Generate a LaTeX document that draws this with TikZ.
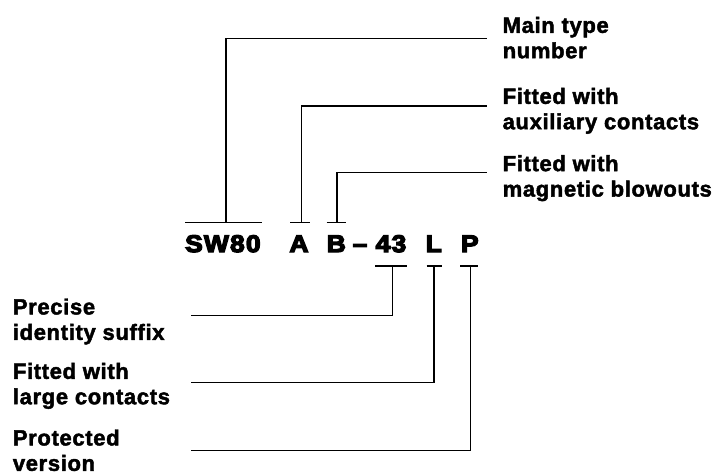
\documentclass[tikz,border=0pt]{standalone}
\usepackage{fontspec}
\setmainfont{Liberation Sans}
\newfontfamily\lblfont[LetterSpace=3,FakeBold=2]{Liberation Sans}
\newfontfamily\codefont[FakeStretch=1.1,LetterSpace=5,FakeBold=5.5]{Liberation Sans}
\begin{document}
\begin{tikzpicture}[x=1pt,y=-1pt,
  lbl/.style={anchor=north west,inner sep=0pt,align=left,
    font=\lblfont\bfseries\fontsize{22}{25.4}\selectfont},
  code/.style={anchor=base,inner sep=0pt,font=\codefont\bfseries\fontsize{24}{24}\selectfont},
  conn/.style={line width=1.4pt,line cap=rect},
  bar/.style={line width=1.6pt}]
\useasboundingbox (0,0) rectangle (716,474);
% code pieces
\node[code] (sw) at (222.9,252) {SW80};
\node[code] (a) at (299,252) {A};
\node[code] (b) at (336.3,252) {B};
\node[code] (dash) at (360,252) {–};
\node[code] (n43) at (391,252) {43};
\node[code] (l) at (433.8,252) {L};
\node[code] (p) at (469.8,252) {P};
% labels
\node[lbl] (main) at (502.5,16.7) {Main type\\number};
\node[lbl] (aux) at (502.5,87.7) {Fitted with\\auxiliary contacts};
\node[lbl] (blow) at (502.5,155) {Fitted with\\magnetic blowouts};
\node[lbl] (prec) at (12.7,298.3) {Precise\\identity suffix};
\node[lbl] (large) at (12.7,362.7) {Fitted with\\large contacts};
\node[lbl] (prot) at (12.7,429.3) {Protected\\version};
% bar ends and taps
\coordinate (swL) at (185,222.5); \coordinate (swR) at (262,222.5); \coordinate (swT) at (226,222.5);
\coordinate (aL) at (290,222.5); \coordinate (aR) at (310,222.5); \coordinate (aT) at (301.7,222.5);
\coordinate (bL) at (326.7,222.5); \coordinate (bR) at (345.7,222.5); \coordinate (bT) at (337,222.5);
\coordinate (nL) at (375,266); \coordinate (nR) at (407,266); \coordinate (nT) at (392.7,266);
\coordinate (lL) at (426.7,266); \coordinate (lR) at (441.7,266); \coordinate (lT) at (434,266);
\coordinate (pL) at (460,266); \coordinate (pR) at (478,266); \coordinate (pT) at (470.7,266);
% connector ends next to labels
\coordinate (mainE) at (486.7,38.3);
\coordinate (auxE) at (486.7,106);
\coordinate (blowE) at (486.7,172.3);
\coordinate (precE) at (191.7,315.7);
\coordinate (largeE) at (191.7,382.7);
\coordinate (protE) at (191.7,450.7);
% bars
\foreach \s in {sw,a,b,n,l,p} \draw[bar] (\s L) -- (\s R);
% connectors
\draw[conn] (swT) |- (mainE);
\draw[conn] (aT) |- (auxE);
\draw[conn] (bT) |- (blowE);
\draw[conn] (nT) |- (precE);
\draw[conn] (lT) |- (largeE);
\draw[conn] (pT) |- (protE);
\end{tikzpicture}
\end{document}
